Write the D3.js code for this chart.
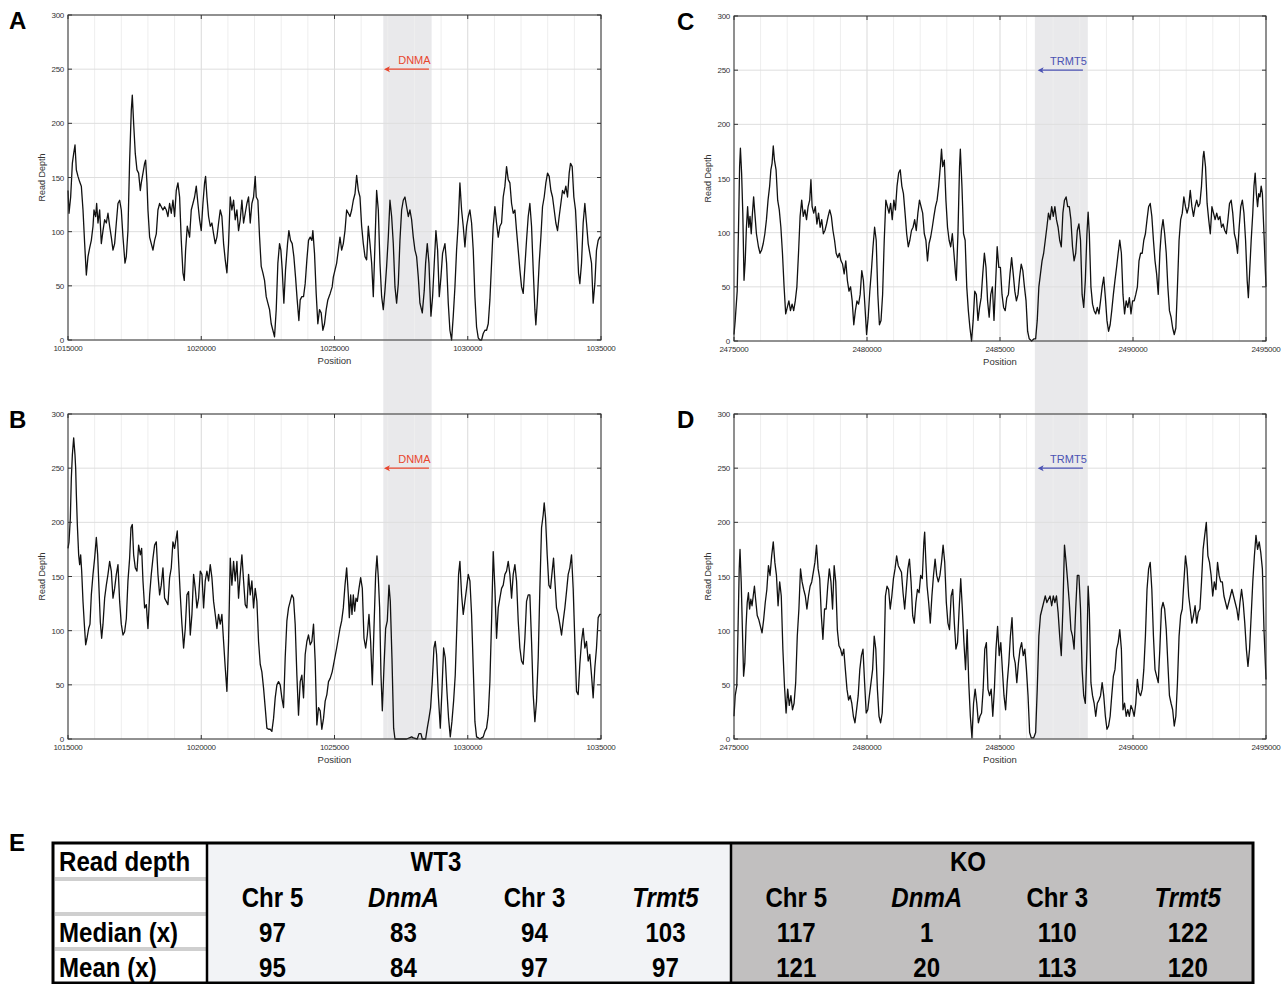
<!DOCTYPE html>
<html>
<head>
<meta charset="utf-8">
<script src="https://cdn.jsdelivr.net/npm/d3@7"></script>
<style>
  body { margin: 0; background: #fff; }
  svg text { font-family: "Helvetica Neue", Helvetica, "Liberation Sans", Arial, sans-serif; }
</style>
</head>
<body>
<svg id="fig" width="1287" height="984"></svg>
<script>
// read depth traces, [bp from window start, depth]
var depthA = [[0,138],[38,117],[100,132],[163,163],[213,172],[263,180],[313,157],[375,151],[438,146],[500,142],[563,120],[625,89],[688,60],[750,77],[813,85],[875,92],[938,105],[975,120],[1038,114],[1075,126],[1125,108],[1188,120],[1250,89],[1313,101],[1375,111],[1438,108],[1500,117],[1563,105],[1625,95],[1688,83],[1750,89],[1813,108],[1875,126],[1938,129],[2000,120],[2063,95],[2138,71],[2188,77],[2250,101],[2313,166],[2375,212],[2413,226],[2463,200],[2525,172],[2588,157],[2650,154],[2713,138],[2750,145],[2813,154],[2875,163],[2913,166],[2963,145],[3000,120],[3063,95],[3125,89],[3188,83],[3250,92],[3313,98],[3375,120],[3438,126],[3500,123],[3563,120],[3625,123],[3688,120],[3750,114],[3813,126],[3875,117],[3938,129],[4000,114],[4063,138],[4125,145],[4188,132],[4250,92],[4313,62],[4363,55],[4413,83],[4475,105],[4563,95],[4625,120],[4688,126],[4750,132],[4813,142],[4875,126],[4938,111],[5000,101],[5063,126],[5125,145],[5163,151],[5213,132],[5275,114],[5338,105],[5400,108],[5463,98],[5525,89],[5588,95],[5650,108],[5713,120],[5775,114],[5838,89],[5900,74],[5963,62],[6025,89],[6088,132],[6150,120],[6213,129],[6275,111],[6338,120],[6400,101],[6463,111],[6525,129],[6588,108],[6650,117],[6713,126],[6775,132],[6838,108],[6900,126],[6963,132],[7025,151],[7063,132],[7125,129],[7188,95],[7250,68],[7313,62],[7375,55],[7438,40],[7500,34],[7563,28],[7625,15],[7750,3],[7813,28],[7875,71],[7938,89],[7988,83],[8038,65],[8100,34],[8163,65],[8238,89],[8288,101],[8350,92],[8413,89],[8475,77],[8538,58],[8600,37],[8663,18],[8713,37],[8775,40],[8838,40],[8900,52],[8963,74],[9025,92],[9088,95],[9150,92],[9188,101],[9250,80],[9313,43],[9375,15],[9438,28],[9500,25],[9563,9],[9625,15],[9688,28],[9750,37],[9838,43],[9913,49],
  [9956,58],[10081,71],[10144,83],[10206,95],[10269,83],[10331,89],[10394,101],[10456,120],[10519,117],[10581,114],[10644,120],[10706,129],[10769,135],[10831,152],[10894,138],[10956,132],[11019,105],[11081,89],[11144,77],[11206,74],[11269,105],[11331,89],[11394,71],[11456,40],[11519,89],[11581,138],[11644,120],[11706,71],[11769,40],[11831,28],[11894,46],[11956,68],[12019,95],[12081,129],[12144,114],[12206,89],[12269,49],[12331,34],[12394,52],[12456,92],[12519,120],[12581,129],[12644,132],[12706,123],[12769,114],[12831,120],[12894,111],[12956,95],[13019,83],[13081,77],[13144,58],[13206,34],[13294,25],[13369,46],[13419,71],[13481,89],[13544,71],[13619,22],[13681,40],[13744,71],[13806,101],[13869,83],[13931,40],[13994,58],[14056,80],[14144,89],[14206,71],[14269,34],[14331,9],[14394,0],[14456,22],[14519,49],[14581,83],[14644,108],[14706,145],[14769,120],[14831,105],[14894,86],[14956,105],[15019,114],[15081,120],[15144,108],[15206,83],[15269,40],[15331,12],[15394,2],[15456,0],[15519,0],[15581,6],[15644,9],[15706,9],[15769,15],[15831,37],[15894,71],[15956,105],[16019,123],[16081,108],[16144,95],[16206,105],[16269,108],[16331,132],[16394,142],[16456,160],[16519,148],[16581,145],[16644,126],[16706,117],[16769,120],[16831,101],[16894,83],[16956,65],[17019,49],[17081,43],[17144,68],[17206,92],[17269,114],[17331,126],[17394,105],[17456,65],[17519,28],[17556,14],[17606,34],[17681,71],[17744,95],[17806,123],[17869,132],[17931,145],[17994,154],[18056,151],[18119,138],[18181,132],[18244,120],[18306,108],[18369,101],[18431,114],[18494,126],[18556,138],[18619,135],[18681,142],[18744,132],[18806,154],[18856,163],[18919,160],[18981,132],[19044,120],[19106,89],[19156,62],[19206,52],[19269,71],[19331,108],[19394,126],[19456,108],[19519,89],[19581,80],[19644,71],[19706,34],[19769,52],[19831,83],[19894,92],[19956,95],[20000,95]];

var depthB = [[0,176],[38,182],[88,204],[125,241],[163,262],[213,278],[263,262],[288,250],[313,226],[350,198],[400,170],[438,161],[475,170],[513,155],[563,127],[613,106],[663,87],[713,93],[775,102],[825,106],[875,133],[938,152],[1000,167],[1063,186],[1113,170],[1163,139],[1213,108],[1263,93],[1313,106],[1375,130],[1438,142],[1500,152],[1563,164],[1625,155],[1688,130],[1750,139],[1813,152],[1875,161],[1938,127],[2000,106],[2063,96],[2125,99],[2188,111],[2250,146],[2313,167],[2363,195],[2413,198],[2463,170],[2525,158],[2588,155],[2650,179],[2713,170],[2763,176],[2813,146],[2875,121],[2938,124],[3000,102],[3063,133],[3125,152],[3188,167],[3250,179],[3313,182],[3375,152],[3438,133],[3500,142],[3563,158],[3625,130],[3688,127],[3750,124],[3813,149],[3875,158],[3938,182],[4000,176],[4063,186],[4100,192],[4150,164],[4213,133],[4275,106],[4338,84],[4400,102],[4463,133],[4525,136],[4588,96],[4650,115],[4713,152],[4775,139],[4838,121],[4900,130],[4963,155],[5025,152],[5088,121],[5150,146],[5213,155],[5275,146],[5338,161],[5400,149],[5463,127],[5525,115],[5588,102],[5650,115],[5713,106],[5775,115],[5838,90],[5900,66],[5963,44],[6025,90],[6088,167],[6150,142],[6213,164],[6275,146],[6338,164],[6400,130],[6463,152],[6525,170],[6588,146],[6650,124],[6713,121],[6775,152],[6838,133],[6900,146],[6963,121],[7025,139],[7088,127],[7150,90],[7213,69],[7275,62],[7338,47],[7400,29],[7463,10],[7525,9],[7588,9],[7650,7],[7713,19],[7775,38],[7838,50],[7900,53],[7963,50],[8025,38],[8088,29],[8150,75],[8213,109],[8275,121],[8338,127],[8400,133],[8463,130],[8525,106],[8588,59],[8650,22],[8713,53],[8775,59],[8838,38],[8900,78],[8963,90],[9025,96],[9088,87],[9150,90],[9213,106],[9275,72],[9338,13],[9400,29],[9463,26],[9525,9],[9588,19],[9650,35],[9713,41],[9775,53],[9838,56],[9913,62],
  [10081,84],[10144,93],[10206,102],[10269,109],[10331,121],[10394,142],[10456,158],[10519,133],[10556,112],[10606,133],[10656,115],[10706,133],[10756,118],[10806,130],[10856,127],[10919,139],[10981,149],[11044,139],[11106,93],[11169,84],[11231,96],[11294,115],[11356,90],[11419,50],[11481,102],[11544,152],[11594,169],[11644,149],[11694,121],[11744,59],[11794,26],[11856,66],[11919,102],[11981,109],[12044,142],[12094,127],[12156,75],[12219,10],[12269,0],[12706,0],[12894,2],[12956,1],[13106,0],[13169,5],[13244,5],[13294,0],[13419,0],[13481,10],[13544,19],[13606,29],[13669,53],[13731,84],[13781,90],[13831,78],[13894,41],[13969,10],[14031,44],[14094,84],[14156,75],[14219,44],[14281,19],[14344,2],[14406,16],[14469,35],[14531,59],[14594,106],[14656,152],[14706,164],[14769,133],[14831,115],[14894,127],[14956,139],[15019,152],[15081,146],[15144,115],[15206,66],[15269,16],[15331,2],[15394,1],[15456,0],[15519,1],[15581,2],[15644,7],[15706,10],[15769,22],[15831,53],[15894,109],[15956,173],[16019,139],[16081,93],[16144,121],[16206,130],[16269,139],[16331,142],[16394,152],[16456,155],[16519,164],[16581,152],[16644,130],[16706,152],[16769,161],[16831,146],[16894,109],[16956,84],[17019,72],[17081,69],[17144,93],[17206,127],[17269,133],[17331,133],[17394,90],[17456,41],[17519,16],[17581,35],[17644,75],[17706,139],[17769,195],[17831,207],[17869,218],[17919,204],[17981,170],[18044,142],[18106,139],[18169,155],[18219,167],[18269,146],[18331,121],[18394,115],[18456,106],[18519,96],[18581,109],[18644,121],[18706,136],[18769,152],[18831,158],[18894,170],[18956,139],[19019,90],[19081,44],[19144,41],[19206,69],[19269,90],[19331,102],[19394,84],[19456,90],[19519,72],[19581,78],[19644,59],[19706,38],[19769,66],[19831,84],[19894,112],[19956,115],[20000,115]];

var depthC = [[0,6],[45,19],[120,46],[166,99],[211,161],[241,178],[286,155],[331,118],[377,56],[422,74],[467,105],[512,124],[557,105],[602,115],[648,99],[693,118],[738,133],[783,118],[843,99],[919,87],[979,81],[1039,84],[1099,90],[1160,99],[1220,112],[1280,130],[1340,143],[1386,158],[1431,164],[1476,180],[1521,167],[1581,158],[1642,130],[1702,121],[1762,105],[1822,81],[1883,50],[1943,25],[2003,31],[2063,37],[2123,28],[2184,34],[2244,28],[2304,37],[2364,50],[2425,81],[2485,115],[2545,130],[2605,115],[2666,121],[2726,112],[2786,124],[2846,130],[2892,149],[2937,124],[2997,118],[3057,124],[3117,108],[3178,118],[3238,105],[3298,112],[3358,99],[3419,102],[3479,108],[3539,115],[3599,121],[3660,115],[3720,102],[3780,93],[3840,81],[3901,77],[3961,81],[4021,74],[4081,71],[4142,62],[4202,74],[4262,56],[4322,46],[4382,50],[4443,37],[4503,15],[4563,28],[4623,37],[4684,34],[4744,43],[4804,65],[4864,56],[4925,31],[4985,6],[5045,22],[5105,46],[5166,65],[5226,87],[5286,105],[5346,93],[5407,43],[5467,15],[5527,19],[5587,43],[5648,93],[5708,130],[5768,124],[5828,118],[5888,127],[5949,112],[6009,130],[6069,121],[6129,143],[6190,155],[6250,158],[6310,143],[6370,136],[6431,118],[6491,99],[6551,87],[6611,93],[6672,102],[6732,105],[6792,112],[6852,102],[6913,118],[6973,130],[7033,124],[7093,118],[7154,99],[7214,93],[7274,74],[7334,90],[7394,96],[7455,105],[7515,115],[7575,124],[7635,130],[7696,143],[7756,161],[7801,177],[7846,161],[7907,167],[7967,130],[8027,105],[8087,93],[8147,87],[8208,99],[8268,81],[8328,62],[8358,56],[8419,99],[8479,161],[8509,177],[8569,143],[8629,99],[8690,93],[8750,50],[8810,28],[8870,12],[8931,0],[8991,19],[9051,46],[9111,43],[9172,19],[9232,31],[9292,40],[9352,62],[9413,81],[9473,68],[9533,37],[9593,22],[9653,43],[9714,50],[9774,19],[9834,53],[9894,87],[9955,68],[10015,68],[10075,43],[10135,31],[10196,28],[10256,40],[10316,43],[10376,62],[10437,77],[10497,62],[10557,46],[10617,37],[10678,43],[10738,59],[10798,71],[10858,65],[10919,50],[10979,37],[11039,9],[11099,2],[11190,0],[11280,2],[11340,2],[11400,19],[11461,50],[11521,62],[11581,74],[11641,81],[11702,93],[11762,105],[11822,118],[11882,112],[11943,124],[12003,115],[12063,124],[12123,112],[12184,105],[12244,93],[12304,87],[12364,118],[12424,130],[12485,133],[12545,124],[12605,124],[12665,112],[12726,87],[12786,74],[12846,81],[12906,102],[12967,108],[13027,93],[13087,43],[13147,31],[13208,56],[13268,99],[13313,119],[13358,99],[13418,50],[13479,34],[13539,28],[13599,25],[13659,31],[13720,25],[13780,37],[13840,50],[13900,59],[13961,40],[14021,19],[14081,9],[14141,15],[14201,28],[14262,43],[14322,56],[14382,68],[14442,81],[14503,93],[14563,81],[14623,43],[14683,25],[14744,37],[14804,31],[14864,40],[14924,25],[14985,37],[15045,37],[15105,43],[15165,50],[15226,74],[15286,81],[15346,81],[15406,93],[15467,99],[15527,112],[15587,124],[15647,127],[15708,115],[15768,93],[15828,74],[15888,62],[15949,43],[16009,81],[16069,102],[16129,112],[16190,99],[16250,81],[16310,50],[16370,28],[16431,22],[16491,12],[16551,6],[16611,12],[16671,50],[16732,93],[16792,112],[16852,118],[16912,133],[16973,124],[17033,118],[17093,124],[17153,139],[17214,124],[17274,115],[17334,124],[17394,130],[17455,124],[17515,127],[17575,143],[17635,170],[17665,175],[17726,161],[17786,127],[17846,112],[17906,99],[17967,124],[18027,118],[18087,112],[18147,118],[18208,112],[18268,115],[18328,105],[18388,108],[18449,102],[18509,99],[18569,112],[18629,127],[18690,130],[18750,118],[18810,99],[18870,93],[18930,81],[18991,105],[19051,124],[19111,130],[19171,118],[19232,93],[19292,56],[19337,40],[19382,62],[19443,93],[19503,118],[19548,143],[19593,155],[19638,136],[19683,124],[19728,136],[19774,133],[19819,143],[19864,136],[19924,99],[20000,50]];

var depthD = [[0,21],[45,40],[105,49],[151,101],[196,157],[226,175],[271,145],[316,101],[361,58],[407,70],[452,104],[497,126],[542,135],[587,120],[633,129],[678,123],[723,132],[768,141],[813,129],[873,114],[934,110],[994,104],[1054,98],[1114,110],[1175,126],[1235,138],[1295,160],[1355,151],[1416,169],[1476,182],[1536,163],[1596,151],[1657,123],[1717,145],[1777,132],[1837,83],[1898,49],[1958,24],[2018,46],[2078,31],[2139,40],[2199,27],[2259,33],[2319,52],[2379,95],[2440,120],[2500,157],[2560,145],[2620,138],[2681,132],[2741,120],[2801,132],[2861,141],[2922,145],[2982,154],[3042,163],[3102,179],[3163,157],[3223,148],[3283,114],[3343,92],[3404,120],[3464,120],[3524,141],[3584,157],[3645,145],[3705,120],[3765,160],[3825,145],[3885,101],[3946,86],[4006,83],[4066,77],[4126,83],[4187,64],[4247,46],[4307,36],[4367,40],[4428,33],[4488,21],[4548,15],[4608,27],[4669,40],[4729,64],[4789,77],[4849,83],[4910,52],[4970,24],[5030,27],[5090,40],[5151,52],[5211,64],[5271,95],[5331,83],[5391,46],[5452,21],[5512,15],[5572,24],[5632,64],[5693,132],[5753,141],[5813,138],[5873,120],[5934,132],[5994,148],[6054,157],[6114,169],[6175,160],[6235,157],[6295,154],[6355,135],[6416,120],[6476,138],[6536,157],[6596,166],[6657,145],[6717,114],[6777,107],[6837,126],[6897,138],[6958,135],[7018,151],[7078,148],[7138,182],[7168,191],[7214,163],[7259,141],[7319,126],[7379,107],[7440,132],[7500,151],[7560,166],[7620,151],[7681,145],[7741,151],[7801,163],[7861,179],[7922,163],[7982,126],[8042,107],[8102,101],[8163,132],[8223,138],[8283,107],[8343,83],[8404,89],[8464,120],[8524,148],[8584,120],[8644,89],[8705,64],[8765,101],[8825,52],[8885,21],[8946,1],[9006,33],[9066,46],[9126,33],[9187,15],[9247,21],[9307,24],[9367,46],[9428,83],[9488,89],[9548,46],[9608,40],[9669,46],[9729,21],[9789,46],[9849,83],[9909,104],[9970,77],[10030,89],[10090,64],[10150,40],[10211,27],[10271,52],[10331,70],[10391,95],[10452,112],[10512,77],[10572,70],[10632,52],[10693,70],[10753,83],[10813,89],[10873,77],[10934,83],[10994,64],[11054,40],[11114,6],[11175,1],[11265,1],[11340,6],[11400,46],[11461,95],[11521,114],[11581,120],[11641,126],[11702,132],[11762,126],[11822,129],[11882,132],[11943,123],[12003,132],[12063,126],[12123,132],[12184,117],[12244,95],[12304,77],[12364,120],[12424,179],[12485,163],[12545,145],[12605,126],[12665,101],[12726,95],[12786,83],[12846,120],[12906,151],[12967,151],[13027,120],[13087,64],[13147,40],[13208,33],[13268,83],[13313,141],[13358,120],[13418,52],[13479,40],[13539,33],[13599,21],[13659,33],[13720,36],[13780,40],[13840,52],[13900,40],[13961,21],[14021,9],[14081,12],[14141,21],[14201,40],[14262,58],[14322,64],[14382,83],[14442,89],[14503,101],[14563,83],[14623,27],[14683,33],[14744,21],[14804,27],[14864,21],[14924,31],[14985,27],[15045,21],[15105,33],[15165,55],[15226,43],[15286,40],[15346,46],[15406,64],[15467,95],[15527,138],[15587,157],[15647,163],[15708,138],[15768,95],[15828,64],[15888,58],[15949,52],[16009,83],[16069,120],[16129,126],[16190,120],[16250,101],[16310,70],[16370,40],[16431,33],[16491,27],[16551,12],[16611,21],[16671,52],[16732,95],[16792,114],[16852,120],[16912,145],[16973,169],[17033,157],[17093,132],[17153,120],[17214,107],[17274,114],[17334,123],[17394,107],[17455,117],[17515,120],[17575,145],[17635,175],[17696,188],[17756,200],[17816,169],[17876,163],[17937,151],[17997,132],[18057,145],[18117,138],[18178,163],[18238,151],[18298,145],[18358,145],[18419,132],[18479,126],[18539,120],[18599,126],[18660,132],[18720,138],[18780,132],[18840,126],[18901,120],[18961,110],[19021,126],[19081,138],[19142,126],[19202,107],[19262,83],[19322,67],[19382,83],[19443,114],[19503,145],[19563,169],[19623,188],[19684,175],[19744,182],[19804,172],[19864,157],[19924,101],[20000,55]];

// windows and genes
var windowDnmA = [1015000, 1035000];
var windowTrmt5 = [2475000, 2495000];
var bandDnmA = [1026831, 1028644];
var bandTrmt5 = [2486310, 2488300];
var arrowDnmA = [1028544, 1026856];   // gene on minus strand
var arrowTrmt5 = [2488117, 2486415];
var depthTicks = [0, 50, 100, 150, 200, 250, 300];

// table E
var tableGroups = ["WT3", "KO"];
var tableCols = ["Chr 5", "DnmA", "Chr 3", "Trmt5"];
var tableRows = ["Median (x)", "Mean (x)"];
var medianVals = [97, 83, 94, 103, 117, 1, 110, 122];
var meanVals = [95, 84, 97, 97, 121, 20, 113, 120];

var svg = d3.select("#fig");
var red = "#e8462e", blue = "#4b52b3";

var panels = [
  {letter: "A", data: depthA, win: windowDnmA, band: bandDnmA, arrow: arrowDnmA, gene: "DNMA", col: red,
   left: 68, right: 601, top: 15, bottom: 340},
  {letter: "B", data: depthB, win: windowDnmA, band: bandDnmA, arrow: arrowDnmA, gene: "DNMA", col: red,
   left: 68, right: 601, top: 414, bottom: 739},
  {letter: "C", data: depthC, win: windowTrmt5, band: bandTrmt5, arrow: arrowTrmt5, gene: "TRMT5", col: blue,
   left: 734, right: 1266, top: 16, bottom: 341},
  {letter: "D", data: depthD, win: windowTrmt5, band: bandTrmt5, arrow: arrowTrmt5, gene: "TRMT5", col: blue,
   left: 734, right: 1266, top: 414, bottom: 739}
];

panels.forEach(function(p) {
  p.x = d3.scaleLinear().domain(p.win).range([p.left, p.right]);
  p.y = d3.scaleLinear().domain([0, 300]).range([p.bottom, p.top]);
});

// shaded gene region runs through both stacked panels
[[panels[0], panels[1]], [panels[2], panels[3]]].forEach(function(pair) {
  var x = pair[0].x;
  svg.append("rect")
    .attr("x", x(pair[0].band[0])).attr("width", x(pair[0].band[1]) - x(pair[0].band[0]))
    .attr("y", pair[0].top).attr("height", pair[1].bottom - pair[0].top)
    .attr("fill", "#e9e9eb");
});

panels.forEach(function(p) {
  var g = svg.append("g");
  var x = p.x, y = p.y;
  var minor = d3.range(p.win[0], p.win[1] + 1, 1000);
  var major = d3.range(p.win[0], p.win[1] + 1, 5000);

  // grid
  g.selectAll(".vminor").data(minor).enter().append("line")
    .attr("x1", d => x(d)).attr("x2", d => x(d)).attr("y1", p.top).attr("y2", p.bottom)
    .attr("stroke", d => (d - p.win[0]) % 5000 === 0 ? "#d9d9d9" : "#eeeeee").attr("stroke-width", 1);
  g.selectAll(".hgrid").data(depthTicks).enter().append("line")
    .attr("x1", p.left).attr("x2", p.right).attr("y1", d => y(d)).attr("y2", d => y(d))
    .attr("stroke", "#dedede").attr("stroke-width", 1);

  // gene arrow + label
  var ay = y(250);
  g.append("line")
    .attr("x1", x(p.arrow[0])).attr("x2", x(p.arrow[1]) + 4).attr("y1", ay).attr("y2", ay)
    .attr("stroke", p.col).attr("stroke-width", 1.2);
  g.append("path")
    .attr("d", "M" + x(p.arrow[1]) + "," + ay + "l6,-3l-1.5,3l1.5,3z")
    .attr("fill", p.col);
  g.append("text")
    .attr("x", x(p.band[1]) - 1).attr("y", y(255))
    .attr("text-anchor", "end").attr("font-size", 11).attr("fill", p.col)
    .text(p.gene);

  // trace
  var line = d3.line().x(d => x(p.win[0] + d[0])).y(d => y(d[1]));
  g.append("path").datum(p.data)
    .attr("d", line).attr("fill", "none")
    .attr("stroke", "#111").attr("stroke-width", 1.3).attr("stroke-linejoin", "round");

  // frame and ticks
  g.append("rect").attr("x", p.left).attr("y", p.top)
    .attr("width", p.right - p.left).attr("height", p.bottom - p.top)
    .attr("fill", "none").attr("stroke", "#333").attr("stroke-width", 1);
  g.selectAll(".yt").data(depthTicks).enter().append("path")
    .attr("d", d => "M" + p.left + "," + y(d) + "h4M" + p.right + "," + y(d) + "h-4")
    .attr("stroke", "#333");
  g.selectAll(".xt").data(major).enter().append("path")
    .attr("d", d => "M" + x(d) + "," + p.bottom + "v-4M" + x(d) + "," + p.top + "v4")
    .attr("stroke", "#333");

  g.selectAll(".yl").data(depthTicks).enter().append("text")
    .attr("x", p.left - 4).attr("y", d => y(d) + 3)
    .attr("text-anchor", "end").attr("font-size", 8).attr("fill", "#333")
    .attr("letter-spacing", "-0.3")
    .text(d => d);
  g.selectAll(".xl").data(major).enter().append("text")
    .attr("x", d => x(d)).attr("y", p.bottom + 11)
    .attr("text-anchor", "middle").attr("font-size", 8).attr("fill", "#333")
    .attr("letter-spacing", "-0.3")
    .text(d => d);

  g.append("text")
    .attr("transform", "translate(" + (p.left - 23) + "," + ((p.top + p.bottom) / 2) + ") rotate(-90)")
    .attr("text-anchor", "middle").attr("font-size", 9).attr("fill", "#333")
    .text("Read Depth");
  g.append("text")
    .attr("x", (p.left + p.right) / 2).attr("y", p.bottom + 24)
    .attr("text-anchor", "middle").attr("font-size", 9.5).attr("fill", "#333")
    .text("Position");

  svg.append("text")
    .attr("x", p.letter === "A" || p.letter === "B" ? 9 : 677).attr("y", p.top + 14)
    .attr("font-size", 24).attr("font-weight", "bold").attr("fill", "#000")
    .style("font-family", "Arial, 'Liberation Sans', sans-serif")
    .text(p.letter);
});

// ---- table E ----
var tx = [53, 207, 731, 1253];
var ty = [843, 879, 914, 949, 983];
var groupTitleX = [436, 968];

svg.append("text").attr("x", 9).attr("y", 851)
  .attr("font-size", 24).attr("font-weight", "bold")
  .style("font-family", "Arial, 'Liberation Sans', sans-serif").text("E");

var tg = svg.append("g");
tg.append("rect").attr("x", tx[1]).attr("y", ty[0]).attr("width", tx[2] - tx[1]).attr("height", ty[4] - ty[0]).attr("fill", "#f2f3f6");
tg.append("rect").attr("x", tx[2]).attr("y", ty[0]).attr("width", tx[3] - tx[2]).attr("height", ty[4] - ty[0]).attr("fill", "#c1bfbf");

[ty[1], ty[2], ty[3]].forEach(function(yy) {
  tg.append("line").attr("x1", tx[0] + 2).attr("x2", tx[1] - 1).attr("y1", yy).attr("y2", yy)
    .attr("stroke", "#cfcfcf").attr("stroke-width", 4);
});

tg.append("rect").attr("x", tx[0]).attr("y", ty[0]).attr("width", tx[3] - tx[0]).attr("height", ty[4] - ty[0])
  .attr("fill", "none").attr("stroke", "#000").attr("stroke-width", 3);
[tx[1], tx[2]].forEach(function(xx) {
  tg.append("line").attr("x1", xx).attr("x2", xx).attr("y1", ty[0]).attr("y2", ty[4])
    .attr("stroke", "#000").attr("stroke-width", 2.5);
});

// condensed bold cell text
function cell(str, xPos, yPos, anchor, italic) {
  tg.append("text")
    .attr("transform", "translate(" + xPos + "," + yPos + ") scale(0.86,1)")
    .attr("text-anchor", anchor || "middle")
    .attr("font-size", 28).attr("font-weight", "bold")
    .attr("font-style", italic ? "italic" : "normal")
    .style("font-family", "'Liberation Sans', Arial, sans-serif")
    .attr("fill", "#000")
    .text(str);
}

cell("Read depth", 59, 871, "start");
tableRows.forEach(function(r, i) { cell(r, 59, 942 + i * 35, "start"); });
tableGroups.forEach(function(gname, gi) {
  var x0 = tx[gi + 1], x1 = tx[gi + 2];
  cell(gname, groupTitleX[gi], 871);
  var cx = d3.scaleBand().domain(d3.range(4)).range([x0, x1]);
  tableCols.forEach(function(c, ci) {
    var xc = cx(ci) + cx.bandwidth() / 2;
    cell(c, xc, 907, "middle", ci % 2 === 1);
    cell(medianVals[gi * 4 + ci], xc, 942);
    cell(meanVals[gi * 4 + ci], xc, 977);
  });
});
</script>
</body>
</html>
